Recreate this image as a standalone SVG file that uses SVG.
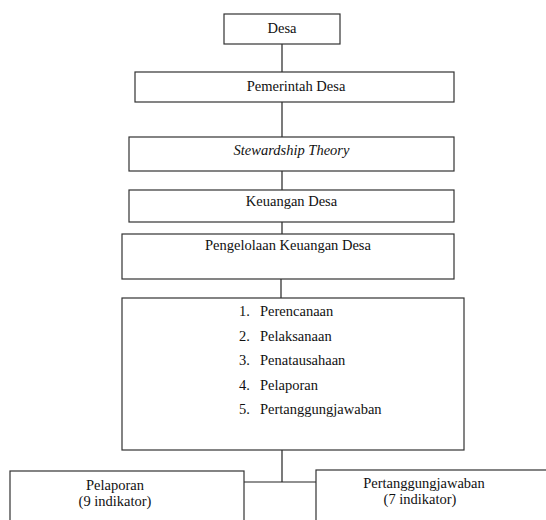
<svg xmlns="http://www.w3.org/2000/svg" width="546" height="520" viewBox="0 0 546 520">
<style>
.box{fill:#fff;stroke:#333;stroke-width:1.2}
.t{font-family:'Liberation Serif','Times New Roman',serif;font-size:14.5px;fill:#111}
.c{text-anchor:middle}
.ln{stroke:#222;stroke-width:1.2;fill:none}
</style>
<rect width="546" height="520" fill="#fff"/>
<g id="connectors">
<line class="ln" x1="282" y1="44" x2="282" y2="72"/>
<line class="ln" x1="282" y1="102" x2="282" y2="137"/>
<line class="ln" x1="282" y1="171" x2="282" y2="190"/>
<line class="ln" x1="282" y1="222" x2="282" y2="234"/>
<line class="ln" x1="281" y1="279" x2="281" y2="298"/>
<line class="ln" x1="282" y1="450" x2="282" y2="482"/>
<line class="ln" x1="244" y1="482" x2="316" y2="482"/>
</g>
<g id="desa">
<rect class="box" x="224" y="14" width="116" height="30"/>
<text class="t c" x="282" y="33">Desa</text>
</g>
<g id="pemerintah">
<rect class="box" x="135" y="72" width="319" height="30"/>
<text class="t c" x="296" y="91">Pemerintah Desa</text>
</g>
<g id="stewardship">
<rect class="box" x="129" y="137" width="325" height="34"/>
<text class="t c" x="291.5" y="155" font-style="italic">Stewardship Theory</text>
</g>
<g id="keuangan">
<rect class="box" x="129" y="190" width="325" height="32"/>
<text class="t c" x="291.5" y="206">Keuangan Desa</text>
</g>
<g id="pengelolaan">
<rect class="box" x="122" y="234" width="332" height="45"/>
<text class="t c" x="288" y="250">Pengelolaan Keuangan Desa</text>
</g>
<g id="list">
<rect class="box" x="122" y="298" width="342" height="152"/>
<text class="t" x="239" y="316">1.</text><text class="t" x="260" y="316">Perencanaan</text>
<text class="t" x="239" y="340.5">2.</text><text class="t" x="260" y="340.5">Pelaksanaan</text>
<text class="t" x="239" y="365">3.</text><text class="t" x="260" y="365">Penatausahaan</text>
<text class="t" x="239" y="389.5">4.</text><text class="t" x="260" y="389.5">Pelaporan</text>
<text class="t" x="239" y="414">5.</text><text class="t" x="260" y="414">Pertanggungjawaban</text>
</g>
<g id="pelaporan">
<rect class="box" x="10" y="471" width="234" height="60"/>
<text class="t c" x="115" y="490">Pelaporan</text>
<text class="t c" x="115" y="506">(9 indikator)</text>
</g>
<g id="pertanggungjawaban">
<rect class="box" x="316" y="470" width="240" height="60"/>
<text class="t c" x="424" y="488">Pertanggungjawaban</text>
<text class="t c" x="420" y="504">(7 indikator)</text>
</g>
</svg>
